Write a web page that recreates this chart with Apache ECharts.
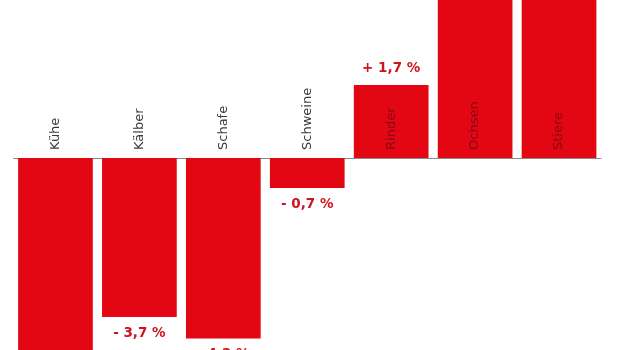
<!DOCTYPE html>
<html>
<head>
<meta charset="utf-8">
<script src="https://cdn.jsdelivr.net/npm/echarts@6/dist/echarts.min.js"></script>
<style>
html,body{margin:0;padding:0;background:#fff;}
#chart{width:620px;height:350px;}
</style>
</head>
<body>
<div id="chart"></div>
<script>
// Categories and percentage changes (Ochsen, Stiere, Kühe are cut off in the original; estimated)
var categories = ['Kühe', 'Kälber', 'Schafe', 'Schweine', 'Rinder', 'Ochsen', 'Stiere'];
var changes = [-5.2, -3.7, -4.2, -0.7, 1.7, 4.5, 4.4];

var chart = echarts.init(document.getElementById('chart'), null, {renderer: 'canvas'});

function fmt(v) {
  return (v < 0 ? '- ' : '+ ') + Math.abs(v).toFixed(1).replace('.', ',') + ' %';
}

var seriesData = changes.map(function (v) {
  return {
    value: v,
    label: { position: v < 0 ? 'bottom' : 'top' }
  };
});

var nameData = categories.map(function (c, i) {
  return {
    value: [c, 0],
    label: { color: changes[i] > 0 ? '#860812' : '#3a3a3a' }
  };
});

chart.setOption({
  animation: false,
  backgroundColor: '#ffffff',
  grid: { left: 13.5, right: 19, top: 0, bottom: 0, containLabel: false, outerBoundsMode: 'none' },
  xAxis: {
    type: 'category',
    data: categories,
    axisLine: { onZero: true, lineStyle: { color: '#8c8c8c', width: 1 } },
    axisTick: { show: false },
    axisLabel: { show: false },
    splitLine: { show: false }
  },
  yAxis: {
    type: 'value',
    min: -4.465,
    max: 3.674,
    show: false,
    splitLine: { show: false }
  },
  series: [{
    type: 'bar',
    data: seriesData,
    barCategoryGap: '11%',
    clip: true,
    itemStyle: { color: '#e30613' },
    label: {
      show: true,
      distance: 9,
      fontFamily: 'DejaVu Sans',
      fontWeight: 'bold',
      fontSize: 13.5,
      color: '#cf1420',
      formatter: function (p) { return fmt(p.value); }
    }
  }, {
    type: 'scatter',
    data: nameData,
    symbolSize: 0,
    z: 5,
    silent: true,
    itemStyle: { opacity: 1 },
    label: {
      show: true,
      opacity: 1,
      position: 'top',
      distance: 8,
      rotate: 90,
      align: 'left',
      verticalAlign: 'middle',
      fontFamily: 'DejaVu Sans',
      fontSize: 13,
      formatter: function (p) { return p.name || p.value[0]; }
    }
  }]
});
</script>
</body>
</html>
